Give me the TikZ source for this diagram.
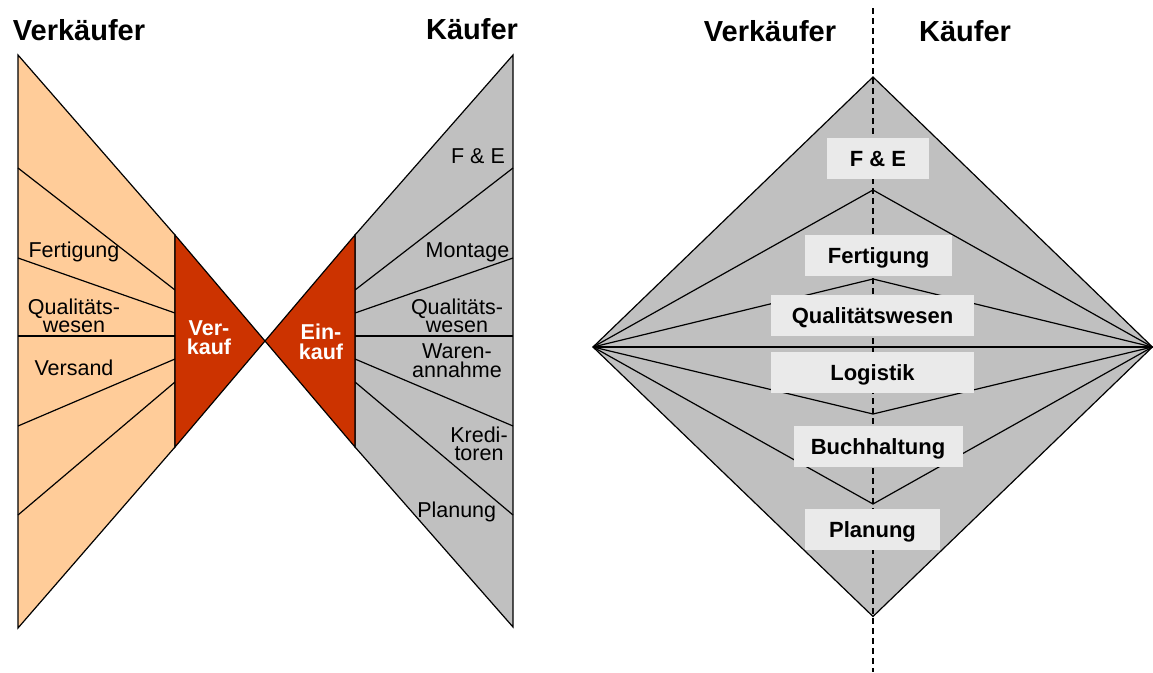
\documentclass[tikz,border=0pt]{standalone}
\usepackage{fontspec}
\setmainfont{Liberation Sans}
\definecolor{peach}{HTML}{FFCC99}
\definecolor{brick}{HTML}{CC3300}
\definecolor{panelgray}{HTML}{C0C0C0}
\definecolor{tagfill}{HTML}{EAEAEA}
\begin{document}
\begin{tikzpicture}[x=1pt,y=-1pt,line join=miter,
  edge/.style={draw=black,line width=1.2pt},
  title/.style={font=\fontsize{29}{32}\selectfont\bfseries,anchor=base,inner sep=0pt},
  % multi-line labels: the base anchor sits on the last line
  lbl/.style={font=\fontsize{21.5}{18.7}\selectfont,anchor=base,inner sep=0pt,align=center},
  redlbl/.style={font=\fontsize{21.5}{19.5}\selectfont\bfseries,text=white,anchor=base,
              inner sep=0pt,align=center},
  tag/.style={fill=tagfill,font=\fontsize{22}{24}\selectfont\bfseries,inner sep=0pt,
              text height=15.8pt,text depth=0pt,minimum height=41pt},
  divider/.style={draw=black,line width=1.2pt,dash pattern=on 6pt off 4pt}]
\useasboundingbox (0,0) rectangle (1153,672);

% ---------- left funnel: seller side ----------
\coordinate (sTop) at (18,55);
\coordinate (sBot) at (18,628);
\coordinate (vTop) at (175,235);
\coordinate (vBot) at (175,447);
\coordinate (apex) at (265,341);
\filldraw[fill=peach,edge] (sTop) -- (vTop) -- (vBot) -- (sBot) -- cycle;
\foreach \i/\ya/\yb in {1/168/290,2/258/313,3/336/336,4/426/359,5/515/382}{
  \coordinate (sl\i) at (18,\ya);
  \coordinate (sr\i) at (175,\yb);
  \draw[edge] (sl\i) -- (sr\i);
}
\filldraw[fill=brick,edge] (vTop) -- (apex) -- (vBot) -- cycle;

% ---------- right funnel: buyer side ----------
\coordinate (bTop) at (513,55);
\coordinate (bBot) at (513,627);
\coordinate (eTop) at (355,235);
\coordinate (eBot) at (355,447);
\filldraw[fill=panelgray,edge] (bTop) -- (eTop) -- (eBot) -- (bBot) -- cycle;
\foreach \i/\ya/\yb in {1/290/168,2/313/258,3/336/336,4/359/426,5/382/515}{
  \coordinate (bl\i) at (355,\ya);
  \coordinate (br\i) at (513,\yb);
  \draw[edge] (bl\i) -- (br\i);
}
\filldraw[fill=brick,edge] (eTop) -- (apex) -- (eBot) -- cycle;

% ---------- funnel labels ----------
\node[title] (tSeller) at (79,40.7) {Verkäufer};
\node[title] (tBuyer) at (472,39.3) {Käufer};

\node[lbl] (sFert) at (74,257) {Fertigung};
\node[lbl] (sQual) at (74,332.7) {Qualitäts-\\wesen};
\node[lbl] (sVers) at (74,375.7) {Versand};

\node[redlbl] (vk) at (209,354.5) {Ver-\\kauf};
\node[redlbl] (ek) at (321,359.3) {Ein-\\kauf};

\node[lbl] (bFE) at (478,163.3) {F \& E};
\node[lbl] (bMont) at (467.5,257.5) {Montage};
\node[lbl] (bQual) at (457,332.7) {Qualitäts-\\wesen};
\node[lbl] (bWar) at (457,377.3) {Waren-\\annahme};
\node[lbl] (bKre) at (479,460.7) {Kredi-\\toren};
\node[lbl] (bPlan) at (456.7,517.3) {Planung};

% ---------- diamond ----------
\coordinate (dW) at (593,347);
\coordinate (dN) at (873,77);
\coordinate (dE) at (1152.4,347);
\coordinate (dS) at (873,616.5);
\filldraw[fill=panelgray,edge] (dW) -- (dN) -- (dE) -- (dS) -- cycle;
\foreach \i/\y in {1/190,2/279,3/347,4/414,5/504}{
  \coordinate (m\i) at (873,\y);
  \draw[edge] (dW) -- (m\i) -- (dE);
}
\coordinate (divTop) at (873,8);
\coordinate (divBot) at (873,672);
\draw[divider] (divTop) -- (divBot);

\node[title] (tSeller2) at (770,41.7) {Verkäufer};
\node[title] (tBuyer2) at (965,41.7) {Käufer};

\node[tag,minimum width=102pt] (gFE) at (878,158.7) {F \& E};
\node[tag,minimum width=147pt] (gFert) at (878.7,255.5) {Fertigung};
\node[tag,minimum width=203pt] (gQual) at (872.5,315.5) {Qualitätswesen};
\node[tag,minimum width=203pt] (gLog) at (872.5,372.2) {Logistik};
\node[tag,minimum width=169pt] (gBuch) at (878,446.3) {Buchhaltung};
\node[tag,minimum width=135pt] (gPlan) at (872.5,529.5) {Planung};
\end{tikzpicture}
\end{document}
